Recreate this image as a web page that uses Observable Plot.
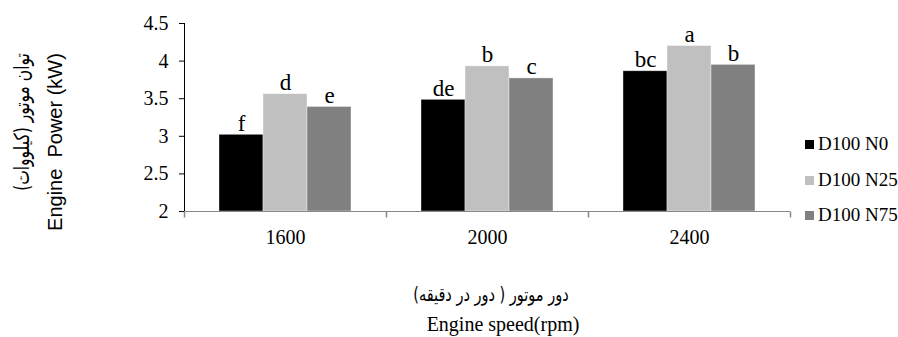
<!DOCTYPE html>
<html>
<head>
<meta charset="utf-8">
<script src="https://cdn.jsdelivr.net/npm/d3@7"></script>
<script src="https://cdn.jsdelivr.net/npm/@observablehq/plot@0.6"></script>
<style>
  html, body { margin: 0; padding: 0; background: #fff; }
  #wrap { position: relative; width: 898px; height: 337px; overflow: hidden; }
  .t { position: absolute; white-space: pre; color: #000; }
  .rot { transform: translate(-50%, -50%) rotate(-90deg); }
  .rotfa { transform: translate(-50%, -50%) rotate(-90deg) scaleY(1.35); }
  .ctr { transform: translate(-50%, -50%); }
  .ctrfa { transform: translate(-50%, -50%) scaleY(1.35); }
  .leg { position: absolute; font-family: "Liberation Serif", serif; font-size: 19px; color: #000; white-space: nowrap; line-height: 1; }
  .sw { display: inline-block; width: 9px; height: 9px; margin-right: 4px; vertical-align: 1px; }
</style>
</head>
<body>
<div id="wrap"></div>
<script>
const categories = ["1600", "2000", "2400"];
const series = ["D100 N0", "D100 N25", "D100 N75"];
const valuesN0 = [3.02, 3.485, 3.865];
const valuesN25 = [3.56, 3.93, 4.2];
const valuesN75 = [3.39, 3.77, 3.95];
const lettersN0 = ["f", "de", "bc"];
const lettersN25 = ["d", "b", "a"];
const lettersN75 = ["e", "c", "b"];
const colors = ["#000000", "#c0c0c0", "#808080"];
const yTicks = [2, 2.5, 3, 3.5, 4, 4.5];
const yTitleFa = "توان موتور (کیلووات)";
const yTitleEn = "Engine  Power (kW)";
const xTitleFa = "دور موتور ( دور در دقیقه)";
const xTitleEn = "Engine speed(rpm)";

const values = [valuesN0, valuesN25, valuesN75];
const letters = [lettersN0, lettersN25, lettersN75];
const data = categories.flatMap((c, i) => series.map((s, j) => ({
  category: c, series: s, value: values[j][i], letter: letters[j][i]
})));
const yMin = yTicks[0];
const axisGray = "#888888";

const tickSymbol = { draw(ctx) { ctx.moveTo(0, 0); ctx.lineTo(0, 6); } };

const chart = Plot.plot({
  width: 898,
  height: 337,
  marginTop: 23,
  marginBottom: 126,
  marginLeft: 183,
  marginRight: 108,
  style: { fontFamily: "Liberation Serif, serif", fontSize: "20px", color: "#000", background: "transparent", overflow: "visible" },
  fx: { domain: categories, padding: 0, label: null, axis: "bottom", tickSize: 0, tickPadding: 18 },
  x: { domain: series, paddingInner: 0, paddingOuter: 0.755, axis: null },
  y: { domain: [yMin, yTicks[yTicks.length - 1]], ticks: yTicks, tickFormat: d => String(d), label: null, axis: "left", tickSize: 5, tickPadding: 11, line: true },
  color: { domain: series, range: colors },
  marks: [
    Plot.barY(data, { fx: "category", x: "series", y1: yMin, y2: "value", fill: "series", stroke: "#ffffff", strokeOpacity: 0.5, strokeWidth: 0.75 }),
    Plot.ruleY([yMin], { stroke: axisGray, strokeWidth: 1 }),
    Plot.dot(categories, { fx: d => d, frameAnchor: "bottom-left", symbol: tickSymbol, stroke: axisGray, fill: "none", r: 3 }),
    Plot.dot(categories.slice(-1), { fx: d => d, frameAnchor: "bottom-right", symbol: tickSymbol, stroke: axisGray, fill: "none", r: 3 }),
    Plot.text(data, { fx: "category", x: "series", y: "value", text: "letter", lineAnchor: "bottom", dy: -4, fontSize: 23, fill: "#000" })
  ]
});

const wrap = document.getElementById("wrap");
wrap.appendChild(chart);

function addText(txt, cls, x, y, font, size) {
  const d = document.createElement("div");
  d.className = "t " + cls;
  d.textContent = txt;
  d.style.left = x + "px";
  d.style.top = y + "px";
  d.style.fontFamily = font;
  d.style.fontSize = size + "px";
  d.style.lineHeight = "1.2";
  wrap.appendChild(d);
  return d;
}
addText(yTitleFa, "rotfa", 23, 122, "DejaVu Sans", 15.5).dir = "rtl";
addText(yTitleEn, "rot", 55, 142, "Liberation Sans, sans-serif", 20);
addText(xTitleFa, "ctrfa", 491, 295, "DejaVu Sans", 14.5).dir = "rtl";
addText(xTitleEn, "ctr", 503, 324, "Liberation Serif, serif", 20);

const legendTop = [143, 179, 214.5];
series.forEach((s, i) => {
  const row = document.createElement("div");
  row.className = "leg";
  row.style.left = "805px";
  row.style.top = (legendTop[i] - 9.5) + "px";
  const sw = document.createElement("span");
  sw.className = "sw";
  sw.style.background = colors[i];
  row.appendChild(sw);
  row.appendChild(document.createTextNode(s));
  wrap.appendChild(row);
});
</script>
</body>
</html>
